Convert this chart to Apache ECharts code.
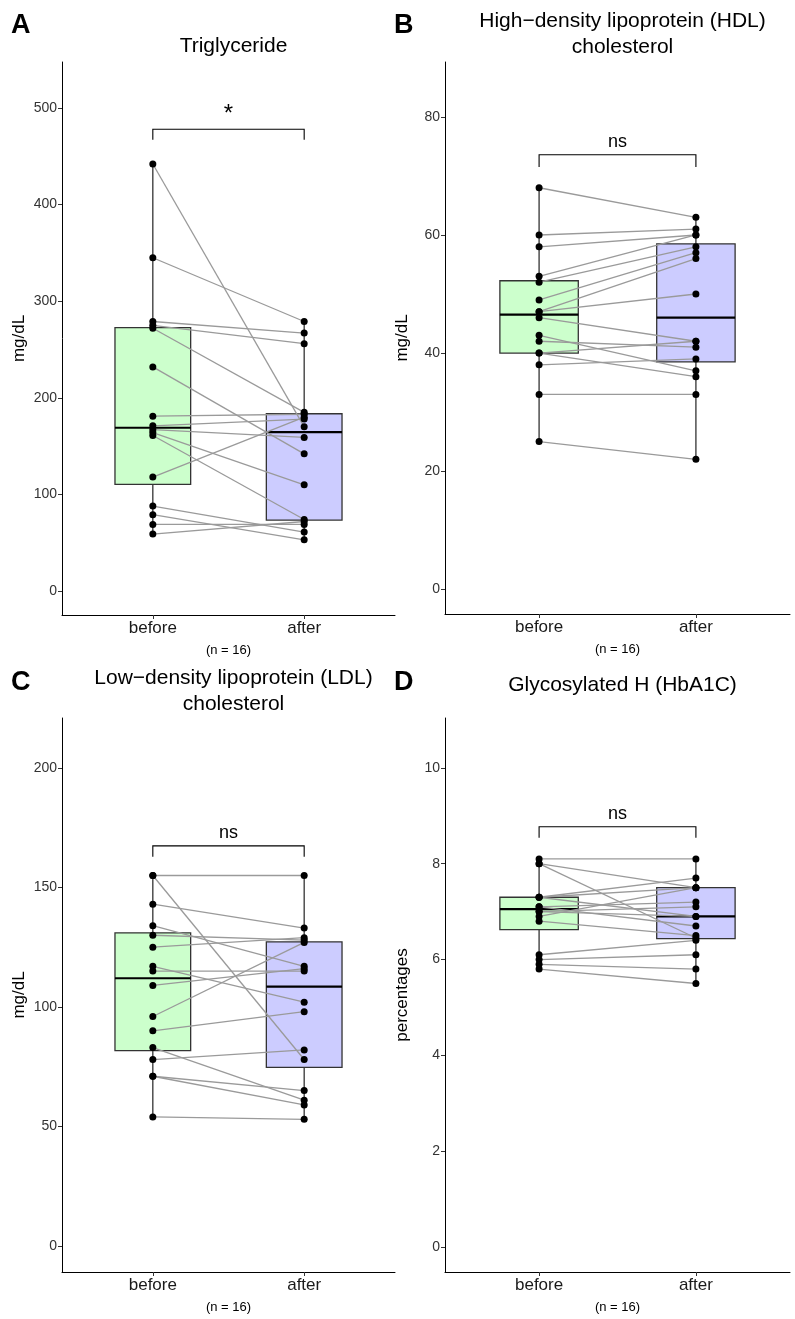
<!DOCTYPE html>
<html><head><meta charset="utf-8">
<script src="https://cdn.jsdelivr.net/npm/echarts@6/dist/echarts.min.js"></script>
<style>html,body{margin:0;padding:0;background:#fff}#c{width:795px;height:1319px}</style>
</head><body><div id="c"></div>
<script>
// ---- data (paired: index i of "before" pairs with index i of "after")
const groups = ['before', 'after'];
const tgBefore  = [442, 345, 279, 275, 272, 232, 181, 171, 167, 164, 161, 118, 88, 79, 69, 59];
const tgAfter   = [170, 279, 267, 256, 185, 142, 183, 178, 159, 110, 74, 180, 61, 53, 69, 72];
const hdlBefore = [68, 60, 58, 53, 52, 49, 47, 47, 46, 43, 42, 40, 40, 38, 33, 25];
const hdlAfter  = [63, 61, 60, 60, 58, 57, 56, 50, 42, 37, 41, 42, 36, 39, 33, 22];
const ldlBefore = [155, 155, 143, 134, 130, 125, 117, 115, 109, 96, 90, 83, 78, 71, 71, 54];
const ldlAfter  = [155, 78, 133, 117, 128, 129, 102, 115, 116, 127, 98, 61, 82, 65, 59, 53];
const hbBefore  = [8.1, 8.0, 8.0, 7.3, 7.3, 7.3, 7.1, 7.1, 7.0, 7.0, 6.9, 6.8, 6.1, 6.0, 5.9, 5.8];
const hbAfter   = [8.1, 6.45, 7.5, 7.7, 7.5, 6.9, 7.2, 6.7, 7.1, 6.9, 7.5, 6.5, 6.4, 6.1, 5.8, 5.5];
const tgTicks  = [0, 100, 200, 300, 400, 500];
const hdlTicks = [0, 20, 40, 60, 80];
const ldlTicks = [0, 50, 100, 150, 200];
const hbTicks  = [0, 2, 4, 6, 8, 10];
const bracketY     = [478, 73.6, 167.4, 8.77];
const bracketTickY = [467, 71.5, 162.8, 8.54];
const bracketLabel = ['*', 'ns', 'ns', 'ns'];
const nLabel = '(n = 16)';

// ---- layout / styles
const FONT = '"Liberation Sans", Arial, Helvetica, sans-serif';
const boxFills = ['#CCFFCC', '#CCCCFF'];
const panels = [
  {letter:'A', title:'Triglyceride', yName:'mg/dL', before:tgBefore, after:tgAfter, ticks:tgTicks,
   yMin:-24.8, yMax:547.6, grid:{left:62, top:62, width:333, height:553}, titleTop:28, letterTop:7},
  {letter:'B', title:'High\u2212density lipoprotein (HDL)\ncholesterol', yName:'mg/dL', before:hdlBefore, after:hdlAfter, ticks:hdlTicks,
   yMin:-4.2, yMax:89.3, grid:{left:445, top:62, width:345, height:552}, titleTop:3, letterTop:7},
  {letter:'C', title:'Low\u2212density lipoprotein (LDL)\ncholesterol', yName:'mg/dL', before:ldlBefore, after:ldlAfter, ticks:ldlTicks,
   yMin:-10.9, yMax:220.9, grid:{left:62, top:718, width:333, height:554}, titleTop:660, letterTop:664},
  {letter:'D', title:'Glycosylated H (HbA1C)', yName:'percentages', before:hbBefore, after:hbAfter, ticks:hbTicks,
   yMin:-0.52, yMax:11.04, grid:{left:445, top:718, width:345, height:554}, titleTop:667, letterTop:664}
];

function quant(arr, p) {
  const s = [...arr].sort((a, b) => a - b);
  const h = (s.length - 1) * p, lo = Math.floor(h);
  const hi = Math.min(lo + 1, s.length - 1);
  return s[lo] + (h - lo) * (s[hi] - s[lo]);
}
function stats(arr, x, ci) {
  const q1 = quant(arr, 0.25), md = quant(arr, 0.5), q3 = quant(arr, 0.75);
  const iqr = q3 - q1;
  const inside = arr.filter(v => v >= q1 - 1.5 * iqr && v <= q3 + 1.5 * iqr);
  return [x, Math.min(...inside), q1, md, q3, Math.max(...inside), ci];
}

const grid = [], xAxis = [], yAxis = [], series = [], title = [];
panels.forEach((p, i) => {
  grid.push(p.grid);
  const gx = p.grid.left + p.grid.width / 2;
  title.push({text: p.title, left: gx, top: p.titleTop, textAlign: 'center',
    textStyle: {fontFamily: FONT, fontSize: 21, fontWeight: 'normal', color: '#000', lineHeight: 26}});
  title.push({text: p.letter, left: p.grid.left - 56, top: p.letterTop,
    textStyle: {fontFamily: FONT, fontSize: 27, fontWeight: 'bold', color: '#000'}});
  xAxis.push({type: 'value', gridIndex: i, min: 0.4, max: 2.6,
    name: nLabel, nameLocation: 'middle', nameGap: 29,
    nameTextStyle: {fontFamily: FONT, fontSize: 13, color: '#000'},
    axisLine: {show: true, onZero: false, lineStyle: {color: '#000', width: 1}},
    axisTick: {show: true, length: 4, customValues: [1, 2], lineStyle: {color: '#333'}},
    axisLabel: {customValues: [1, 2], formatter: v => groups[Math.round(v) - 1] || '',
      fontFamily: FONT, fontSize: 17, color: '#1a1a1a', margin: 5},
    splitLine: {show: false}});
  yAxis.push({type: 'value', gridIndex: i, min: p.yMin, max: p.yMax,
    name: p.yName, nameLocation: 'middle', nameGap: 34, nameRotate: 90,
    nameTextStyle: {fontFamily: FONT, fontSize: 17, color: '#000'},
    axisLine: {show: true, onZero: false, lineStyle: {color: '#000', width: 1}},
    axisTick: {show: true, length: 4, customValues: p.ticks, lineStyle: {color: '#333'}},
    axisLabel: {customValues: p.ticks, fontFamily: FONT, fontSize: 14, color: '#333', margin: 5},
    splitLine: {show: false}});

  // boxes
  series.push({type: 'custom', xAxisIndex: i, yAxisIndex: i, z: 1, silent: true,
    data: [stats(p.before, 1, 0), stats(p.after, 2, 1)],
    encode: {x: 0, y: [1, 2, 3, 4, 5]},
    renderItem: (params, api) => {
      const x = api.value(0), mn = api.value(1), q1 = api.value(2), md = api.value(3), q3 = api.value(4), mx = api.value(5);
      const ci = api.value(6);
      const tl = api.coord([x - 0.25, q3]), br = api.coord([x + 0.25, q1]);
      const pmn = api.coord([x, mn]), pmx = api.coord([x, mx]), pq1 = api.coord([x, q1]), pq3 = api.coord([x, q3]);
      const ml = api.coord([x - 0.25, md]), mr = api.coord([x + 0.25, md]);
      const ls = {stroke: '#333', lineWidth: 1.3};
      return {type: 'group', children: [
        {type: 'line', shape: {x1: pmn[0], y1: pmn[1], x2: pq1[0], y2: pq1[1]}, style: ls},
        {type: 'line', shape: {x1: pq3[0], y1: pq3[1], x2: pmx[0], y2: pmx[1]}, style: ls},
        {type: 'rect', shape: {x: tl[0], y: tl[1], width: br[0] - tl[0], height: br[1] - tl[1]},
          style: {fill: boxFills[ci], stroke: '#333', lineWidth: 1.3}},
        {type: 'line', shape: {x1: ml[0], y1: ml[1], x2: mr[0], y2: mr[1]}, style: {stroke: '#000', lineWidth: 2.2}}
      ]};
    }});
  // paired lines
  series.push({type: 'custom', xAxisIndex: i, yAxisIndex: i, z: 2, silent: true,
    data: p.before.map((b, k) => [1, b, 2, p.after[k]]),
    encode: {x: [0, 2], y: [1, 3]},
    renderItem: (params, api) => {
      const a = api.coord([api.value(0), api.value(1)]), b = api.coord([api.value(2), api.value(3)]);
      return {type: 'line', shape: {x1: a[0], y1: a[1], x2: b[0], y2: b[1]},
        style: {stroke: '#9a9a9a', lineWidth: 1.3}};
    }});
  // points
  series.push({type: 'scatter', xAxisIndex: i, yAxisIndex: i, z: 3, silent: true,
    symbolSize: 7, itemStyle: {color: '#000', opacity: 1},
    data: p.before.map(v => [1, v]).concat(p.after.map(v => [2, v]))});
  // significance bracket
  series.push({type: 'custom', xAxisIndex: i, yAxisIndex: i, z: 4, silent: true,
    data: [[1, bracketY[i], 2, bracketTickY[i]]],
    encode: {x: [0, 2], y: [1, 3]},
    renderItem: (params, api) => {
      const y = api.value(1), ty = api.value(3);
      const l = api.coord([1, y]), r = api.coord([2, y]), lt = api.coord([1, ty]);
      const lab = bracketLabel[i];
      return {type: 'group', children: [
        {type: 'polyline', shape: {points: [[l[0], lt[1]], [l[0], l[1]], [r[0], r[1]], [r[0], lt[1]]]},
          style: {stroke: '#000', lineWidth: 1.1, fill: null}},
        {type: 'text', x: (l[0] + r[0]) / 2, y: l[1] - (lab === '*' ? 3 : 4),
          style: {text: lab, fontFamily: FONT, fontSize: lab === '*' ? 24 : 18, fill: '#000',
            textAlign: 'center', textVerticalAlign: 'bottom'}}
      ]};
    }});
});

const chart = echarts.init(document.getElementById('c'), null, {renderer: 'canvas'});
chart.setOption({animation: false, backgroundColor: '#fff', title, grid, xAxis, yAxis, series});
</script></body></html>
